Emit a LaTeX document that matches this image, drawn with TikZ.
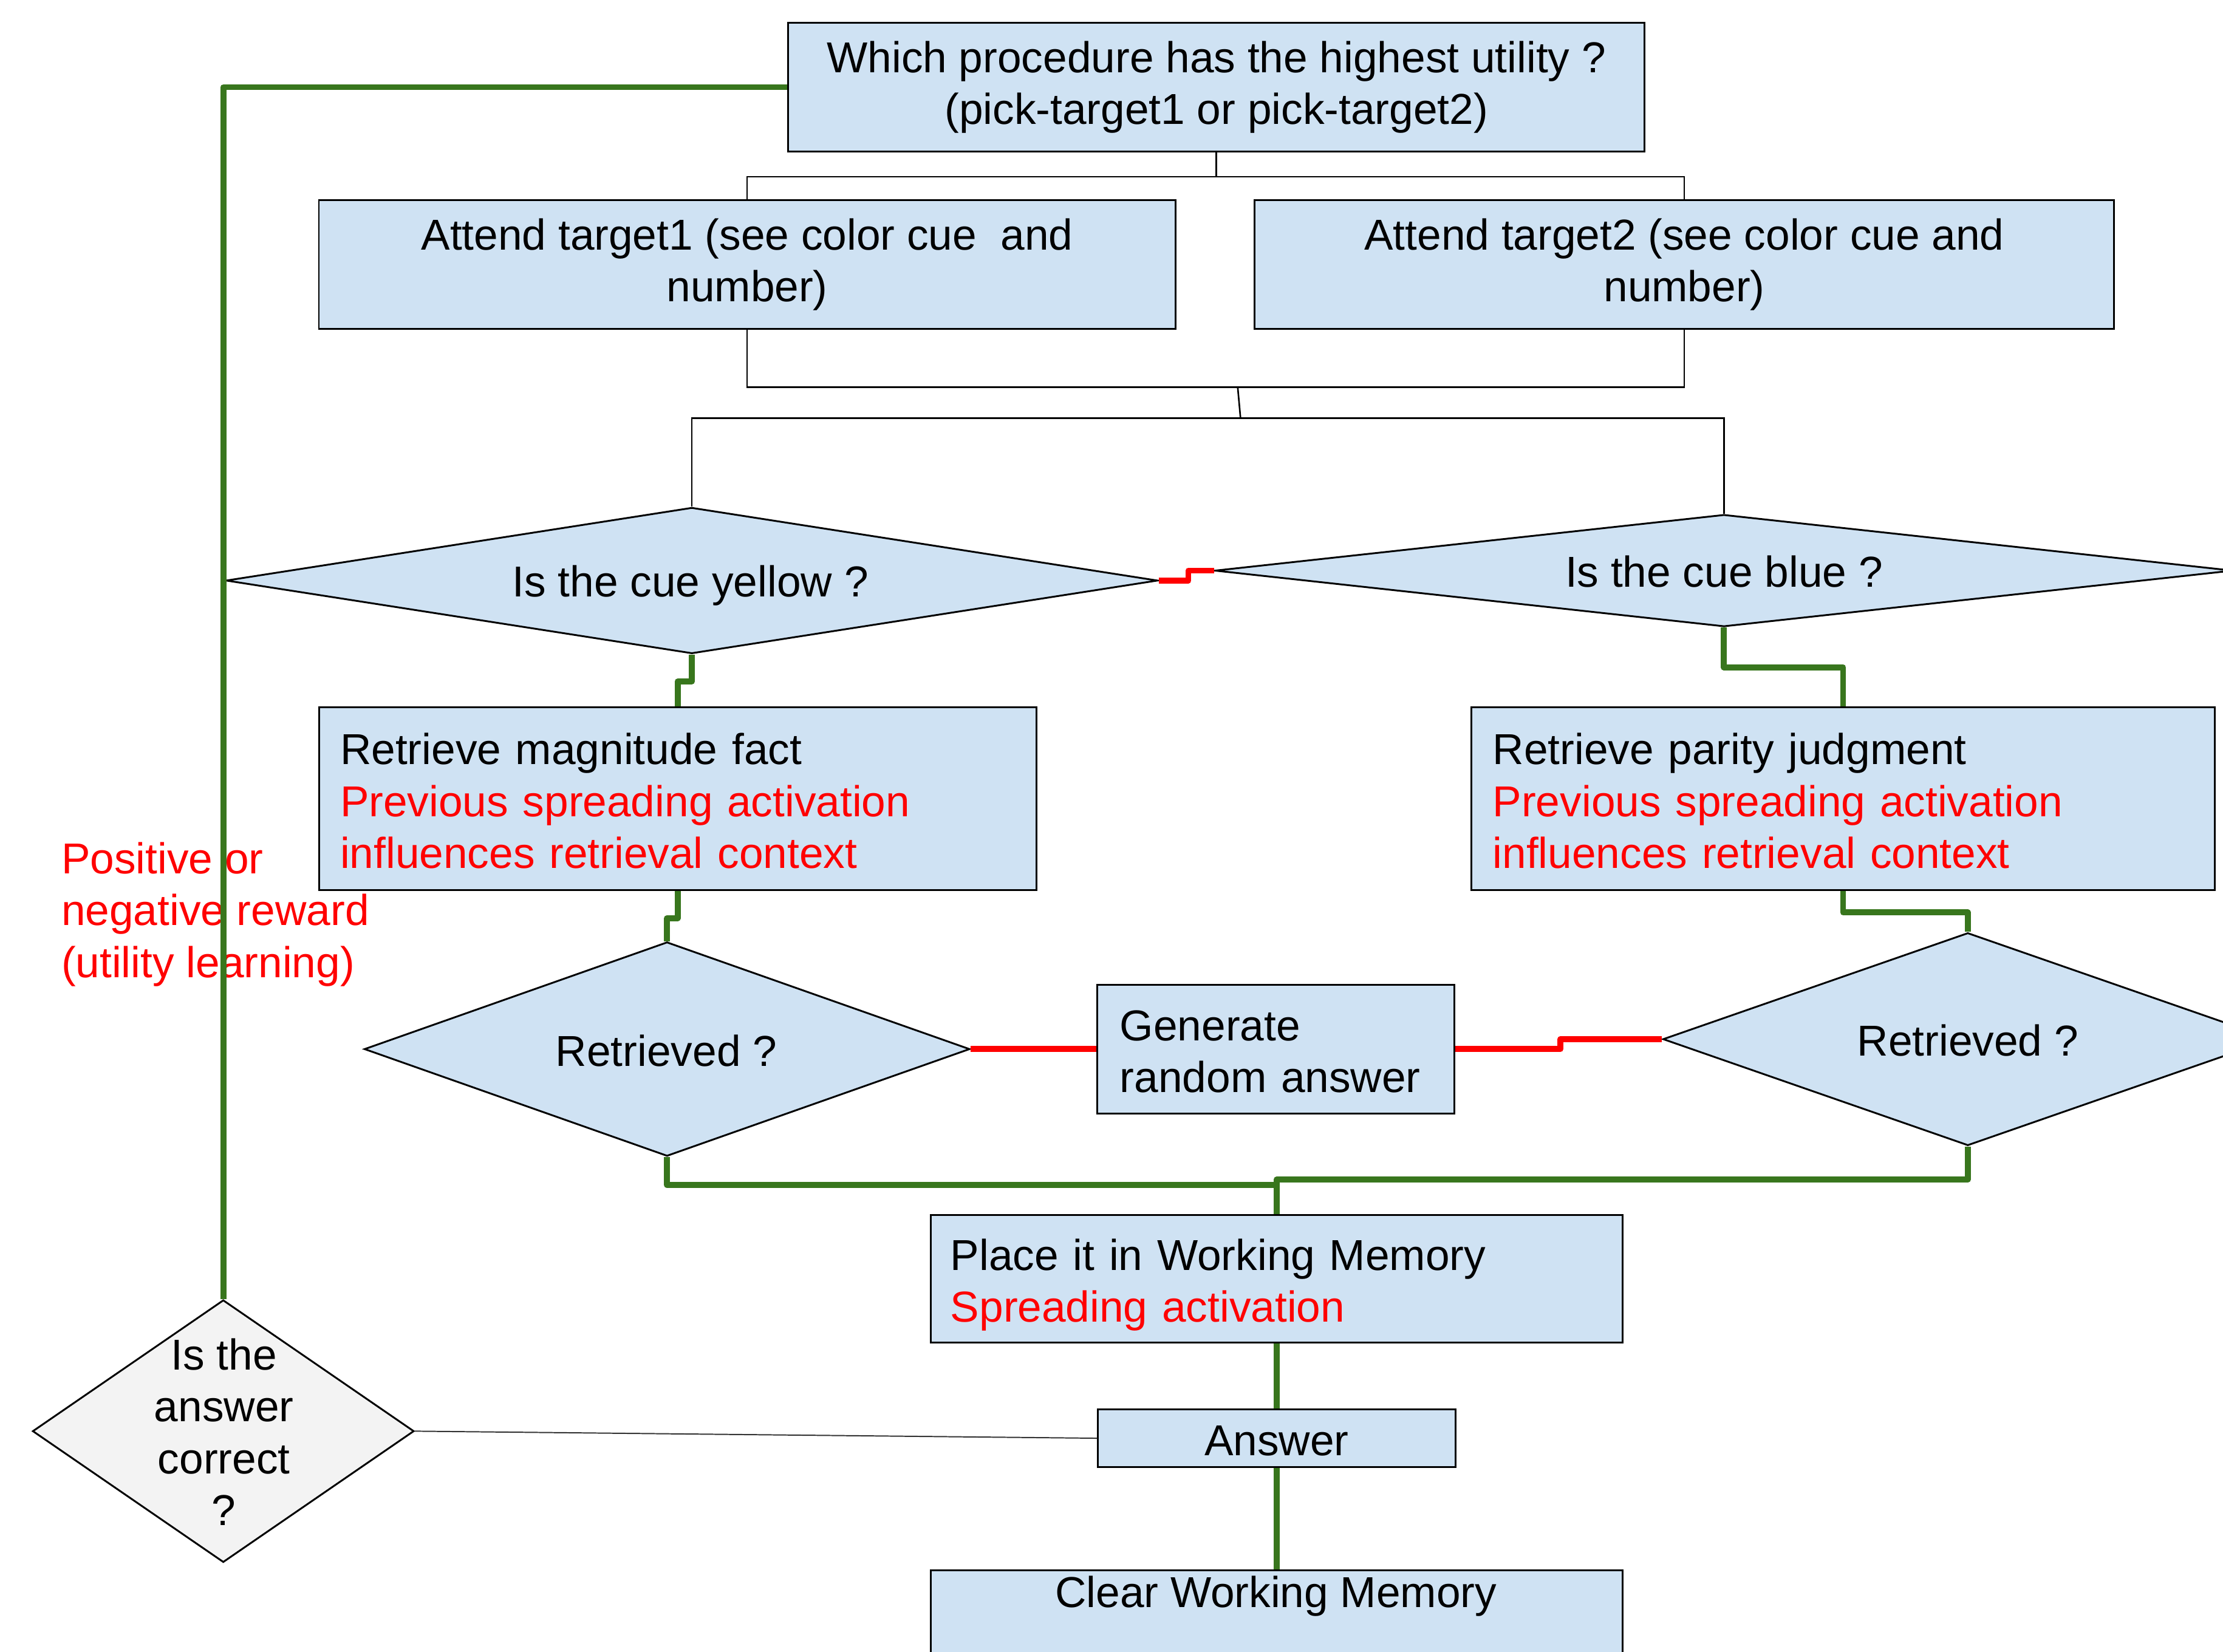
\documentclass[tikz,border=0pt]{standalone}
\usepackage{fontspec}
\setmainfont{Liberation Sans}
\usetikzlibrary{shapes.geometric,calc}
\definecolor{lblue}{HTML}{CFE2F3}
\definecolor{dgreen}{HTML}{38761D}
\definecolor{lgray}{HTML}{F3F3F3}
\newcommand\topstrut{\rule{0pt}{22pt}}
\newcommand\botstrut{\rule[-4.5pt]{0pt}{4.5pt}}
\begin{document}
\begin{tikzpicture}[x=0.025cm,y=-0.025cm,
  txt/.style={font=\fontsize{21.7pt}{26pt}\selectfont},
  mybox/.style={draw=black,line width=0.9pt,fill=lblue,rectangle,inner xsep=0.375cm,inner ysep=0pt,txt,
    execute at begin node=\topstrut, execute at end node=\botstrut},
  mydia/.style={draw=black,line width=0.9pt,fill=lblue,diamond,inner sep=0pt},
  greenline/.style={draw=dgreen,line width=3pt,line join=round},
  redline/.style={draw=red,line width=3pt,line join=round},
  blackline/.style={draw=black,line width=0.8pt}]

\useasboundingbox (0,0) rectangle (1568,1165);

% boxes
\node[mybox,minimum width=15.1cm,minimum height=2.275cm,align=center] (A) at (858,61.5)
  {Which procedure has the highest utility ?\\(pick-target1 or pick-target2)};
\node[mybox,minimum width=15.1cm,minimum height=2.275cm,align=center] (B1) at (527,186.5)
  {Attend target1 (see color cue~ and\\number)};
\node[mybox,minimum width=15.15cm,minimum height=2.275cm,align=center] (B2) at (1188,186.5)
  {Attend target2 (see color cue and\\number)};

\node[mydia,minimum width=16.425cm,minimum height=2.575cm] (Y) at (488,409.5) {};
\node[txt,inner sep=0pt] (Yt) at (487,413) {Is the cue yellow ?};
\node[mydia,minimum width=17.95cm,minimum height=1.975cm] (BL) at (1216,402.5) {};
\node[txt,inner sep=0pt] (BLt) at (1216,403) {Is the cue blue ?};

\node[mybox,minimum width=12.65cm,minimum height=3.225cm,text width=11.9cm,align=left] (R1) at (478,563.5)
  {Retrieve magnitude fact\\\textcolor{red}{Previous spreading activation}\\\textcolor{red}{influences retrieval context}};
\node[mybox,minimum width=13.1cm,minimum height=3.225cm,text width=12.35cm,align=left] (R2) at (1300,563.5)
  {Retrieve parity judgment\\\textcolor{red}{Previous spreading activation}\\\textcolor{red}{influences retrieval context}};

\node[mydia,minimum width=10.675cm,minimum height=3.775cm] (RT1) at (470.5,740) {};
\node[txt,inner sep=0pt] (RT1t) at (470,741) {Retrieved ?};
\node[mydia,minimum width=10.75cm,minimum height=3.75cm] (RT2) at (1388,733) {};
\node[txt,inner sep=0pt] (RT2t) at (1388,734) {Retrieved ?};

\node[mybox,minimum width=6.3cm,minimum height=2.275cm,inner xsep=0.4cm,text width=5.5cm,align=left] (G) at (900,740)
  {Generate\\random answer};

\node[mybox,minimum width=12.2cm,minimum height=2.25cm,inner xsep=0.35cm,text width=11.5cm,align=left] (P) at (900.5,902)
  {Place it in Working Memory\\\textcolor{red}{Spreading activation}};

\node[mybox,minimum width=6.3cm,minimum height=1.025cm,align=center] (Ans) at (900.5,1014.5) {Answer};

\node[mybox,minimum width=12.2cm,minimum height=2.5cm,anchor=north] (C) at (900.5,1107) {};
\node[txt,inner sep=0pt] (Ct) at (900,1126) {Clear Working Memory};

\node[draw=black,line width=0.9pt,fill=lgray,diamond,inner sep=0pt,minimum width=6.725cm,minimum height=4.625cm] (Q) at (157.5,1009.5) {};
\node[txt,align=center,inner sep=0pt] (Qt) at (158,1010) {Is the\\answer\\correct\\?};

\node[txt,text=red,align=left,anchor=west,inner sep=0pt] (rew) at (43,645)
  {Positive or\\negative reward\\(utility learning)};

% black connectors
\coordinate (j1) at (873,273);
\coordinate (j2) at (875,295);
\draw[blackline] (A.south) -- ++(0,17) -| (B1.north);
\draw[blackline] (A.south) -- ++(0,17) -| (B2.north);
\draw[blackline] (B1.south) |- (j1) -| (B2.south);
\draw[blackline] (j1) -- (j2);
\draw[blackline] (j2) -| (Y.north);
\draw[blackline] (j2) -| (BL.north);
\draw[line width=0.6pt,draw=black!80] (Q.east) -- (Ans.west);

% red connectors
\draw[redline] (Y.east) -- ++(21,0) |- (BL.west);
\draw[redline] (RT1.east) -- (G.west);
\draw[redline] (G.east) -- ++(74,0) |- (RT2.west);

% green connectors
\coordinate (k1) at (900.5,836);
\coordinate (k2) at (900.5,832);
\draw[greenline] (Y.south) -- ++(0,19) -| (R1.north);
\draw[greenline] (BL.south) -- ++(0,28) -| (R2.north);
\draw[greenline] (R1.south) -- ++(0,19) -| (RT1.north);
\draw[greenline] (R2.south) -- ++(0,15) -| (RT2.north);
\draw[greenline] (RT1.south) |- (k1);
\draw[greenline] (RT2.south) |- (k2) -- (P.north);
\draw[greenline] (P.south) -- (Ans.north);
\draw[greenline] (Ans.south) -- (C.north);
\draw[greenline] (Q.north) |- (A.west);
\end{tikzpicture}
\end{document}
